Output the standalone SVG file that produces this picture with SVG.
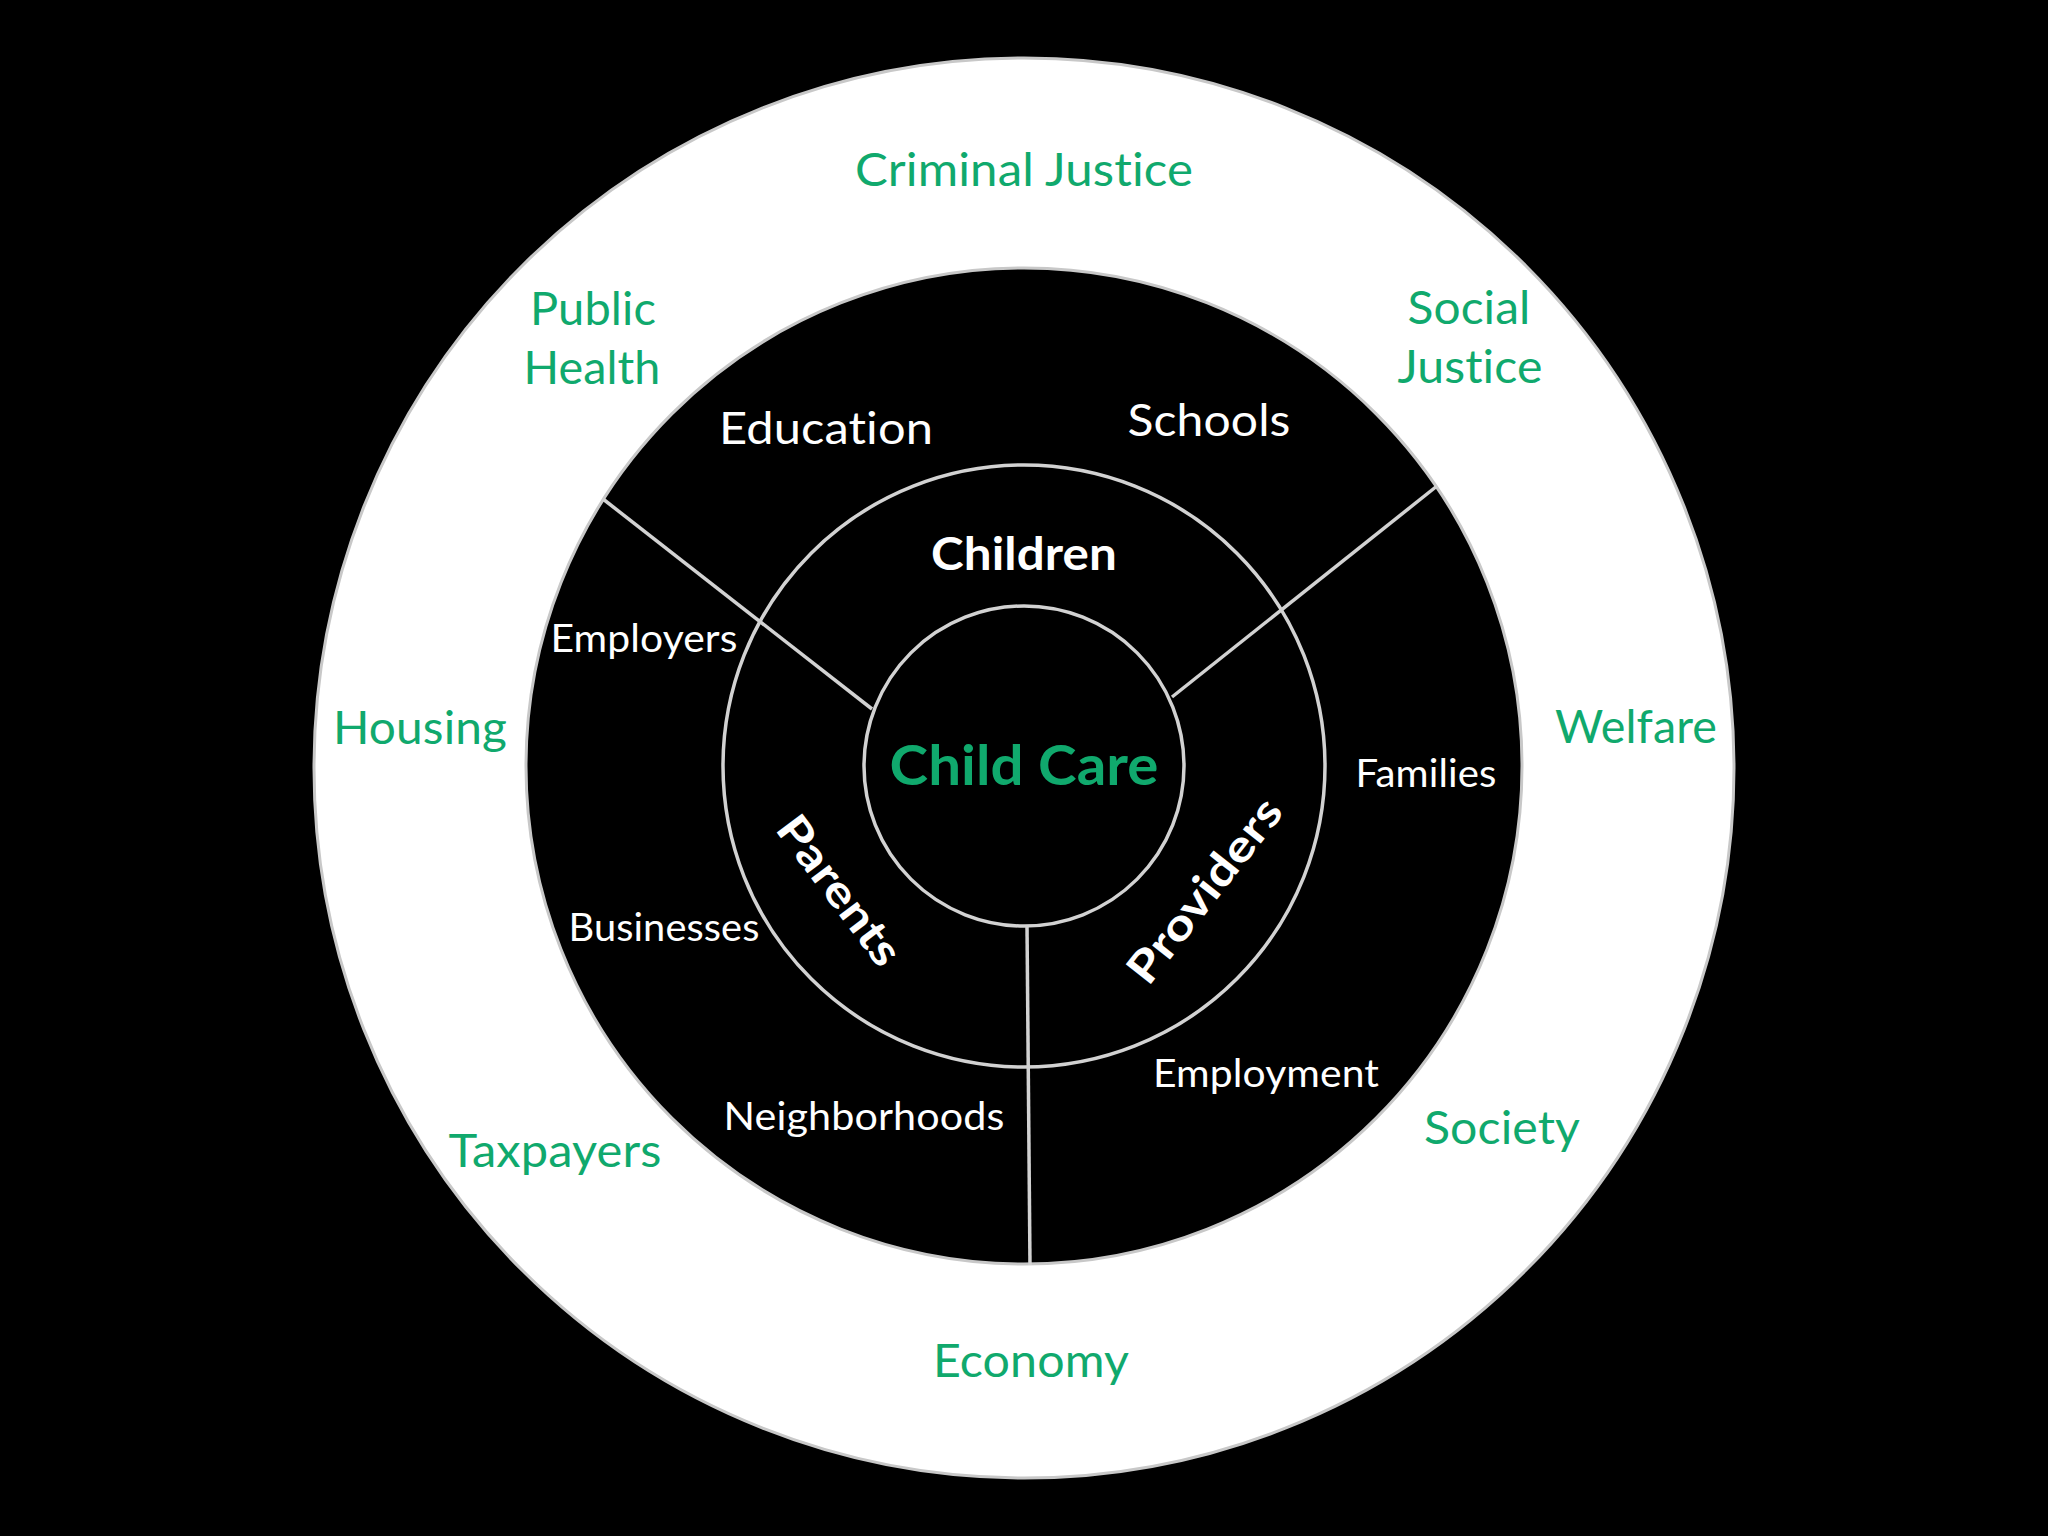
<svg xmlns="http://www.w3.org/2000/svg" width="2048" height="1536" viewBox="0 0 2048 1536">
  <style>
    text { font-variant-ligatures: none; font-feature-settings: "liga" 0, "clig" 0, "dlig" 0, "calt" 0; letter-spacing: 0.1px; }
    .ring { stroke: #c8c8c8; stroke-width: 3; }
    .line { stroke: #d2d2d2; stroke-width: 3.5; fill: none; }
    .green { font-family: Lato, "Noto Sans", "Liberation Sans", sans-serif; font-size: 46px; fill: #10a96d; text-anchor: middle; }
    .white { font-family: Lato, "Noto Sans", "Liberation Sans", sans-serif; font-size: 39px; fill: #ffffff; text-anchor: middle; }
    .whiteL { font-family: Lato, "Noto Sans", "Liberation Sans", sans-serif; font-size: 44px; fill: #ffffff; text-anchor: middle; }
    .bold { font-family: Lato, "Noto Sans", "Liberation Sans", sans-serif; font-weight: 700; fill: #ffffff; text-anchor: middle; }
  </style>
  <rect x="0" y="0" width="2048" height="1536" fill="#000000"/>

  <g id="outer-ring">
    <circle cx="1024" cy="768" r="710" fill="#ffffff" class="ring"/>
    <text class="green" x="1024" y="186" textLength="338" lengthAdjust="spacingAndGlyphs">Criminal Justice</text>
    <text class="green" x="593" y="325" textLength="126" lengthAdjust="spacingAndGlyphs">Public</text>
    <text class="green" x="592" y="384" textLength="137" lengthAdjust="spacingAndGlyphs">Health</text>
    <text class="green" x="1469" y="324" textLength="123" lengthAdjust="spacingAndGlyphs">Social</text>
    <text class="green" x="1470" y="383" textLength="145" lengthAdjust="spacingAndGlyphs">Justice</text>
    <text class="green" x="420" y="744" textLength="174" lengthAdjust="spacingAndGlyphs">Housing</text>
    <text class="green" x="1636" y="743" textLength="162" lengthAdjust="spacingAndGlyphs">Welfare</text>
    <text class="green" x="555" y="1167" textLength="213" lengthAdjust="spacingAndGlyphs">Taxpayers</text>
    <text class="green" x="1502" y="1144" textLength="156" lengthAdjust="spacingAndGlyphs">Society</text>
    <text class="green" x="1031" y="1377" textLength="196" lengthAdjust="spacingAndGlyphs">Economy</text>
  </g>

  <g id="middle-ring">
    <circle cx="1024" cy="766" r="498" fill="#000000" class="ring" stroke-width="4"/>
    <text class="whiteL" x="826" y="444" textLength="214" lengthAdjust="spacingAndGlyphs">Education</text>
    <text class="whiteL" x="1209" y="436" textLength="163" lengthAdjust="spacingAndGlyphs">Schools</text>
    <text class="white" x="644" y="652" textLength="187" lengthAdjust="spacingAndGlyphs">Employers</text>
    <text class="white" x="1426" y="787" textLength="141" lengthAdjust="spacingAndGlyphs">Families</text>
    <text class="white" x="664" y="941" textLength="191" lengthAdjust="spacingAndGlyphs">Businesses</text>
    <text class="white" x="864" y="1130" textLength="281" lengthAdjust="spacingAndGlyphs">Neighborhoods</text>
    <text class="white" x="1266" y="1087" textLength="226" lengthAdjust="spacingAndGlyphs">Employment</text>
  </g>

  <g id="connectors">
    <circle cx="1024" cy="766" r="301" class="line"/>
    <line x1="603" y1="499" x2="872" y2="709" class="line"/>
    <line x1="1437" y1="486" x2="1172" y2="697" class="line"/>
    <line x1="1027" y1="926" x2="1030" y2="1265" class="line"/>
  </g>

  <g id="inner-ring">
    <text class="bold" x="1024" y="570" font-size="46" textLength="186" lengthAdjust="spacingAndGlyphs">Children</text>
    <g transform="translate(840,890) rotate(53)">
      <text class="bold" x="0" y="16" font-size="44" textLength="176" lengthAdjust="spacingAndGlyphs">Parents</text>
    </g>
    <g transform="translate(1204,890) rotate(-52)">
      <text class="bold" x="0" y="16" font-size="44" textLength="222" lengthAdjust="spacingAndGlyphs">Providers</text>
    </g>
  </g>

  <g id="core">
    <circle cx="1024" cy="766" r="160" fill="#000000" class="line"/>
    <text class="bold" x="1024" y="785" font-size="56" style="fill:#10a96d" textLength="269" lengthAdjust="spacingAndGlyphs">Child Care</text>
  </g>
</svg>
